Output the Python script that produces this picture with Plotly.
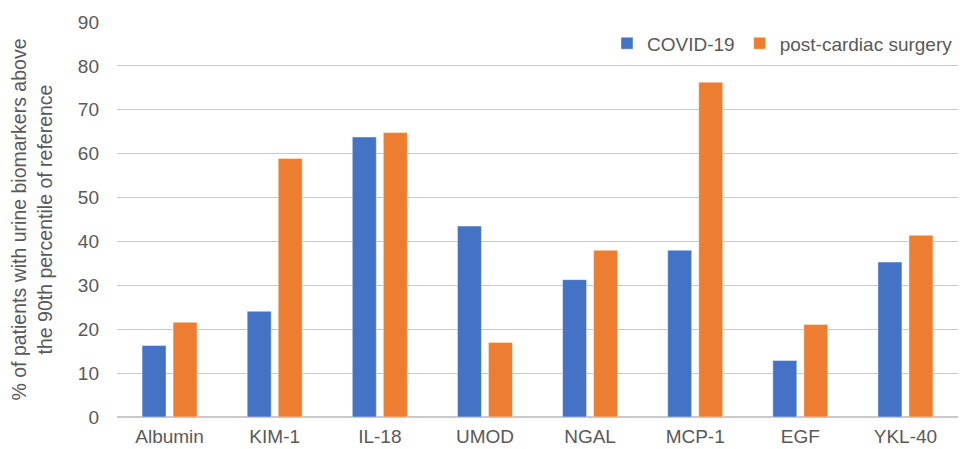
import plotly.graph_objects as go

# Urine biomarkers and share of patients above the 90th percentile of reference
biomarkers = ["Albumin", "KIM-1", "IL-18", "UMOD", "NGAL", "MCP-1", "EGF", "YKL-40"]
covid19 = [16.3, 24.1, 63.8, 43.5, 31.3, 38.0, 12.9, 35.3]
post_cardiac = [21.6, 58.9, 64.8, 17.0, 38.0, 76.3, 21.1, 41.4]
y_ticks = [0, 10, 20, 30, 40, 50, 60, 70, 80, 90]

FONT = "Liberation Sans, Arial, sans-serif"
TEXT = "#595959"
GRID = "#C9C9C9"

fig = go.Figure()
fig.add_trace(go.Bar(
    x=biomarkers, y=covid19, name="COVID-19",
    marker=dict(color="#4472C4", line=dict(color="rgba(255,255,255,0.45)", width=1)),
))
fig.add_trace(go.Bar(
    x=biomarkers, y=post_cardiac, name="post-cardiac surgery",
    marker=dict(color="#ED7D31", line=dict(color="rgba(255,255,255,0.45)", width=1)),
))

fig.update_layout(
    width=960, height=449,
    margin=dict(l=117, r=2, t=22, b=32, autoexpand=False),
    paper_bgcolor="white", plot_bgcolor="white",
    barmode="group", bargap=0.41, bargroupgap=0.226,
    font=dict(family=FONT, size=19, color=TEXT),
    showlegend=True,
    legend=dict(
        orientation="h", x=1.0, xanchor="right", y=0.946, yanchor="middle",
        font=dict(family=FONT, size=19, color=TEXT),
        bgcolor="rgba(255,255,255,0)", itemwidth=30,
    ),
    xaxis=dict(
        showgrid=False, showline=True, linecolor=GRID, linewidth=1, automargin=False,
        ticks="", tickfont=dict(size=19, color=TEXT), ticklabelstandoff=2,
    ),
    yaxis=dict(
        range=[0, 90], tickvals=y_ticks, showgrid=True, gridcolor=GRID, gridwidth=1,
        zeroline=True, zerolinecolor=GRID, showline=False, ticks="", automargin=False,
        tickfont=dict(size=19, color=TEXT), ticklabelstandoff=17,
        title=dict(
            text="% of patients with urine biomarkers above<br>the 90th percentile of reference",
            font=dict(size=19.5, color=TEXT), standoff=20,
        ),
    ),
)

fig.write_html("out.html")
